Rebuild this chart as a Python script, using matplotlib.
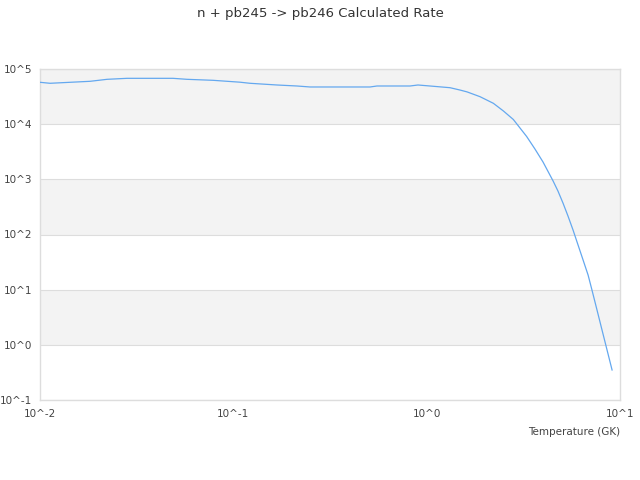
import matplotlib
matplotlib.use("Agg")
import matplotlib.pyplot as plt
from matplotlib.ticker import FixedLocator, FixedFormatter

title = "n + pb245 -> pb246 Calculated Rate"
xlabel = "Temperature (GK)"

# temperature (GK) and rate
temperature = [0.01, 0.01127, 0.01816, 0.02223, 0.02818, 0.04875, 0.05754, 0.07852,
               0.1081, 0.1219, 0.1683, 0.2133, 0.2495, 0.5093, 0.5534, 0.8204,
               0.9016, 1.040, 1.321, 1.486, 1.618, 1.888, 2.213, 2.494, 2.807,
               3.289, 3.631, 3.998, 4.508, 4.775, 5.070, 5.383, 5.715,
               6.067, 6.442, 6.839, 7.161, 7.603, 8.072, 8.57, 9.099]
rate = [57410, 55080, 59840, 65010, 67760, 67760, 65010, 62370,
        57680, 55080, 51290, 49200, 47210, 47210, 49200, 49200,
        51290, 49200, 45810, 41590, 38450, 31480, 23890, 17340, 12160,
        5984, 3548, 2061, 933, 615, 372.4, 216, 120.8,
        64.6, 34.5, 18.4, 9.86, 4.29, 1.858, 0.807, 0.35]

x_ticks = [1e-2, 1e-1, 1e0, 1e1]
x_ticklabels = ["10^-2", "10^-1", "10^0", "10^1"]
y_ticks = [1e-1, 1e0, 1e1, 1e2, 1e3, 1e4, 1e5]
y_ticklabels = ["10^-1", "10^0", "10^1", "10^2", "10^3", "10^4", "10^5"]
bands = [(1e0, 1e1), (1e2, 1e3), (1e4, 1e5)]

text_color = "#444444"
grid_color = "#dddddd"

fig = plt.figure(figsize=(6.4, 4.8), dpi=100)
ax = fig.add_axes([40 / 640, 80 / 480, 580 / 640, 331 / 480])

for lo, hi in bands:
    ax.axhspan(lo, hi, color="#f3f3f3", zorder=0, lw=0)

ax.plot(temperature, rate, color="#64a8ef", lw=0.9, zorder=3)

ax.set_xscale("log")
ax.set_yscale("log")
ax.set_xlim(1e-2, 1e1)
ax.set_ylim(1e-1, 1e5)

ax.xaxis.set_major_locator(FixedLocator(x_ticks))
ax.xaxis.set_major_formatter(FixedFormatter(x_ticklabels))
ax.yaxis.set_major_locator(FixedLocator(y_ticks))
ax.yaxis.set_major_formatter(FixedFormatter(y_ticklabels))
ax.xaxis.set_minor_locator(FixedLocator([]))
ax.yaxis.set_minor_locator(FixedLocator([]))

ax.tick_params(axis="both", length=0, labelsize=7.5, labelcolor=text_color)
ax.tick_params(axis="x", pad=6.5)
ax.tick_params(axis="y", pad=5.5)

ax.grid(True, axis="y", color=grid_color, lw=0.8, zorder=1)
for spine in ax.spines.values():
    spine.set_color(grid_color)
    spine.set_linewidth(1.0)

ax.set_xlabel(xlabel, fontsize=7.5, color=text_color, loc="right", labelpad=6)
fig.suptitle(title, fontsize=9.5, color="#333333", y=0.985)

fig.savefig("out.png", dpi=100)
